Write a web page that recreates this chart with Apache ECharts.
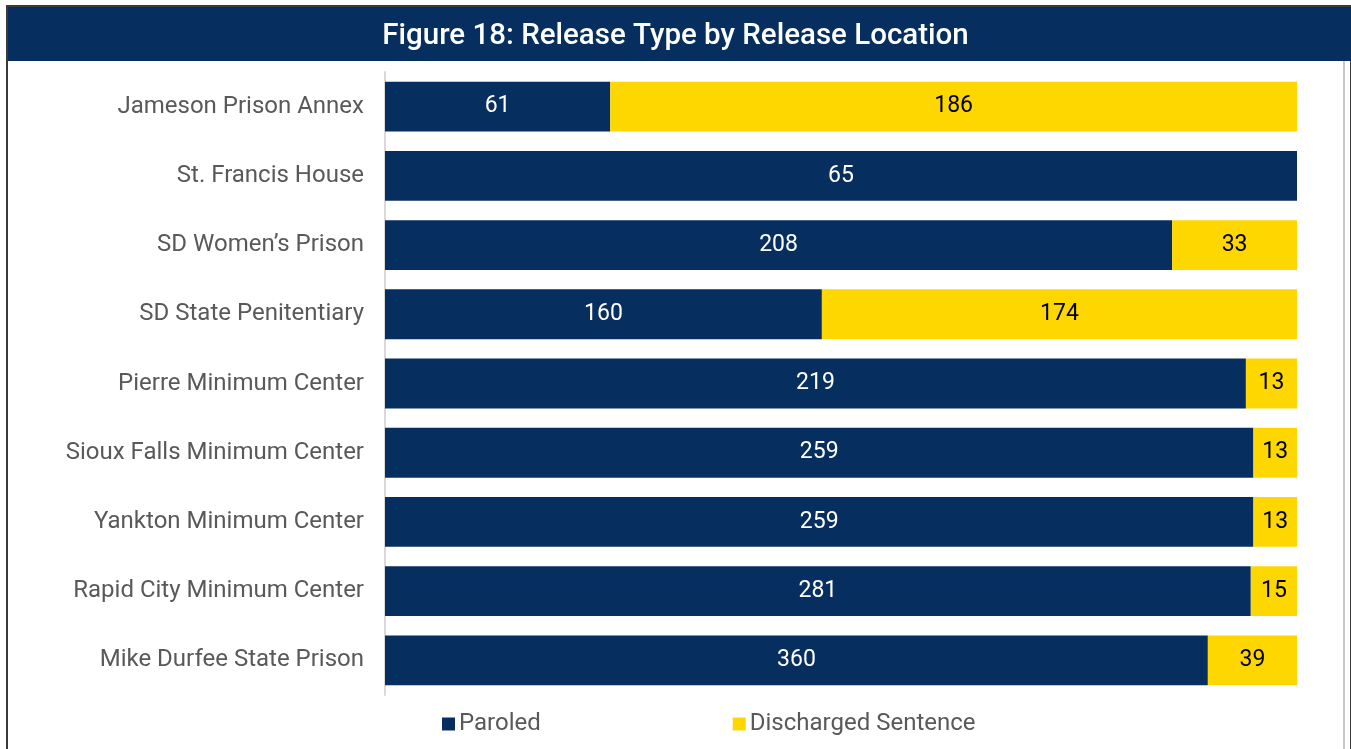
<!DOCTYPE html>
<html>
<head>
<meta charset="utf-8">
<script src="https://cdn.jsdelivr.net/npm/echarts@6/dist/echarts.min.js"></script>
<style>
html,body{margin:0;padding:0;background:#fff;}
#chart{width:1351px;height:749px;}
</style>
</head>
<body>
<div id="chart"></div>
<script>
const titleText = 'Figure 18: Release Type by Release Location';
const categories = ['Jameson Prison Annex','St. Francis House','SD Women\u2019s Prison','SD State Penitentiary','Pierre Minimum Center','Sioux Falls Minimum Center','Yankton Minimum Center','Rapid City Minimum Center','Mike Durfee State Prison'];
const seriesNames = ['Paroled','Discharged Sentence'];
const paroled = [61,65,208,160,219,259,259,281,360];
const discharged = [186,0,33,174,13,13,13,15,39];

const NAVY = '#062F5F';
const YELLOW = '#FFD700';
const totals = paroled.map((v,i)=>v+discharged[i]);
function pct(arr){ return arr.map((v,i)=>({value: v/totals[i]*100, raw: v})); }

const chart = echarts.init(document.getElementById('chart'));
const labelFont = {fontFamily:'Roboto', fontSize:23};
chart.setOption({
  animation:false,
  backgroundColor:'#fff',
  graphic:[
    {type:'rect', shape:{x:7,y:6,width:1344,height:760}, style:{fill:'#fff', stroke:'#3a3a3a', lineWidth:2}, z:-10},
    {type:'line', shape:{x1:1344,y1:60,x2:1344,y2:749}, style:{stroke:'#c8c8c8', lineWidth:2}, z:-9},
    {type:'rect', shape:{x:8,y:7,width:1343,height:54}, style:{fill:NAVY}, z:-5}
  ],
  title:{
    text:titleText, left:'center', top:17,
    textStyle:{color:'#fff', fontFamily:'Roboto', fontSize:29.5, fontWeight:500}
  },
  legend:{
    data:seriesNames, left:437, top:707, itemWidth:13, itemHeight:13, itemGap:192,
    icon:'rect',
    textStyle:{color:'#595959', fontFamily:'Roboto', fontSize:24, padding:[0,0,0,-1]}
  },
  grid:{left:385, right:54, top:72, bottom:54, containLabel:false},
  xAxis:{type:'value', min:0, max:100, show:false},
  yAxis:{
    type:'category', data:categories, inverse:true,
    axisLine:{show:true, lineStyle:{color:'#D9D9D9', width:2}},
    axisTick:{show:false},
    axisLabel:{color:'#595959', fontFamily:'Roboto', fontSize:24, margin:21}
  },
  series:[
    {name:seriesNames[0], type:'bar', stack:'a', barWidth:'72%', data:pct(paroled),
     itemStyle:{color:NAVY},
     label:{show:true, position:'inside', color:'#fff', ...labelFont, formatter:p=>p.data.raw>0?p.data.raw:''}},
    {name:seriesNames[1], type:'bar', stack:'a', barWidth:'72%', data:pct(discharged),
     itemStyle:{color:YELLOW},
     label:{show:true, position:'inside', color:'#000', ...labelFont, formatter:p=>p.data.raw>0?p.data.raw:''}}
  ]
});
</script>
</body>
</html>
